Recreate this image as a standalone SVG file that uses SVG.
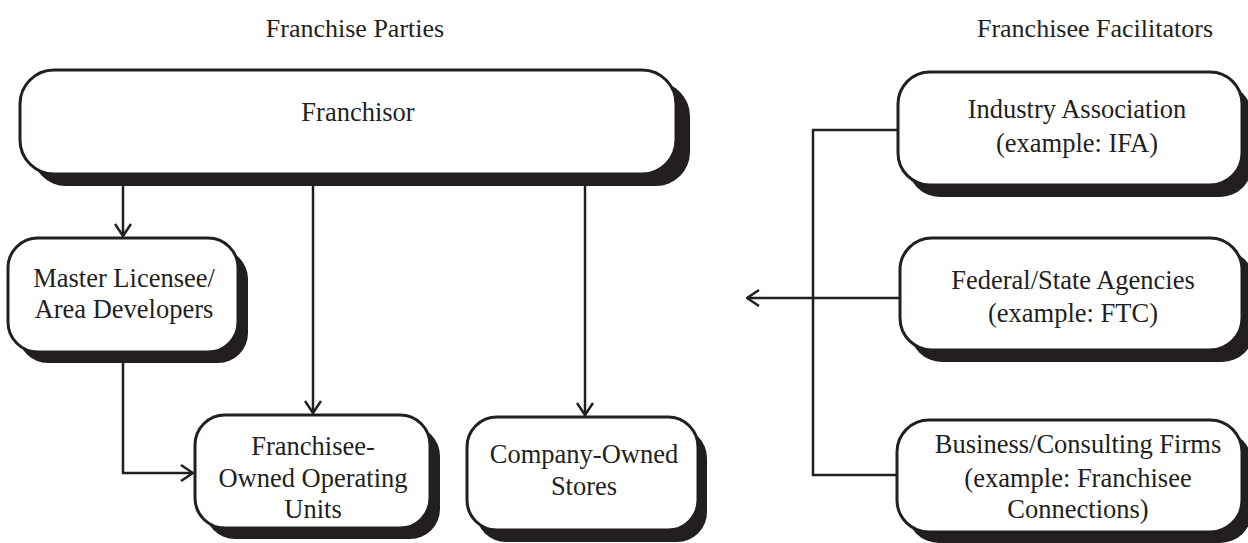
<svg xmlns="http://www.w3.org/2000/svg" width="1248" height="543" viewBox="0 0 1248 543">
  <style>
    .box { fill: #ffffff; stroke: #231f20; stroke-width: 3; }
    .shadow { fill: #231f20; }
    .lbl { font-family: "Liberation Serif", "Times New Roman", serif; font-size: 26.5px; fill: #231f20; text-anchor: middle; }
    .title { font-family: "Liberation Serif", "Times New Roman", serif; font-size: 26px; fill: #231f20; text-anchor: middle; }
    .wire { fill: none; stroke: #231f20; stroke-width: 2.5; }
  </style>
  <defs>
    <marker id="openArrow" viewBox="0 0 14 18" refX="13" refY="9" markerWidth="14" markerHeight="18" orient="auto" markerUnits="userSpaceOnUse">
      <path d="M1,1 L13,9 L1,17" fill="none" stroke="#231f20" stroke-width="2.5"/>
    </marker>
  </defs>
  <rect width="1248" height="543" fill="#ffffff"/>

  <!-- column headings -->
  <text class="title" x="355" y="37">Franchise Parties</text>
  <text class="title" x="1095" y="37">Franchisee Facilitators</text>

  <!-- connectors -->
  <g id="connectors">
    <path class="wire" d="M123,186 V236" marker-end="url(#openArrow)"/>
    <path class="wire" d="M313,186 V413" marker-end="url(#openArrow)"/>
    <path class="wire" d="M585,186 V415" marker-end="url(#openArrow)"/>
    <path class="wire" d="M123,363 V473 H193" marker-end="url(#openArrow)"/>
    <path class="wire" d="M899,130 H813 V475 H898"/>
    <path class="wire" d="M900,298 H747" marker-end="url(#openArrow)"/>
  </g>

  <!-- Franchise parties -->
  <g id="franchisor">
    <rect class="shadow" x="32" y="82" width="658" height="104" rx="34"/>
    <rect class="box" x="20" y="70" width="656" height="104" rx="34"/>
    <text class="lbl" x="358" y="121">Franchisor</text>
  </g>

  <g id="master-licensee">
    <rect class="shadow" x="18" y="249" width="230" height="114" rx="30"/>
    <rect class="box" x="8" y="238" width="230" height="114" rx="30"/>
    <text class="lbl" x="124" y="287">Master Licensee/</text>
    <text class="lbl" x="124" y="318">Area Developers</text>
  </g>

  <g id="franchisee-units">
    <rect class="shadow" x="205" y="426" width="235" height="113" rx="30"/>
    <rect class="box" x="195" y="415" width="235" height="113" rx="30"/>
    <text class="lbl" x="313" y="455">Franchisee-</text>
    <text class="lbl" x="313" y="487">Owned Operating</text>
    <text class="lbl" x="313" y="518">Units</text>
  </g>

  <g id="company-stores">
    <rect class="shadow" x="476" y="428" width="231" height="114" rx="30"/>
    <rect class="box" x="467" y="417" width="231" height="113" rx="30"/>
    <text class="lbl" x="584" y="463">Company-Owned</text>
    <text class="lbl" x="584" y="495">Stores</text>
  </g>

  <!-- Franchisee facilitators -->
  <g id="industry-association">
    <rect class="shadow" x="908" y="84" width="344" height="113" rx="32"/>
    <rect class="box" x="898" y="72" width="344" height="113" rx="32"/>
    <text class="lbl" x="1077" y="118">Industry Association</text>
    <text class="lbl" x="1077" y="152">(example: IFA)</text>
  </g>

  <g id="government-agencies">
    <rect class="shadow" x="910" y="250" width="344" height="112" rx="32"/>
    <rect class="box" x="900" y="238" width="342" height="112" rx="32"/>
    <text class="lbl" x="1073" y="289">Federal/State Agencies</text>
    <text class="lbl" x="1073" y="322">(example: FTC)</text>
  </g>

  <g id="consulting-firms">
    <rect class="shadow" x="907" y="431" width="345" height="112" rx="32"/>
    <rect class="box" x="897" y="420" width="345" height="112" rx="32"/>
    <text class="lbl" x="1078" y="453">Business/Consulting Firms</text>
    <text class="lbl" x="1078" y="487">(example: Franchisee</text>
    <text class="lbl" x="1078" y="518">Connections)</text>
  </g>
</svg>
